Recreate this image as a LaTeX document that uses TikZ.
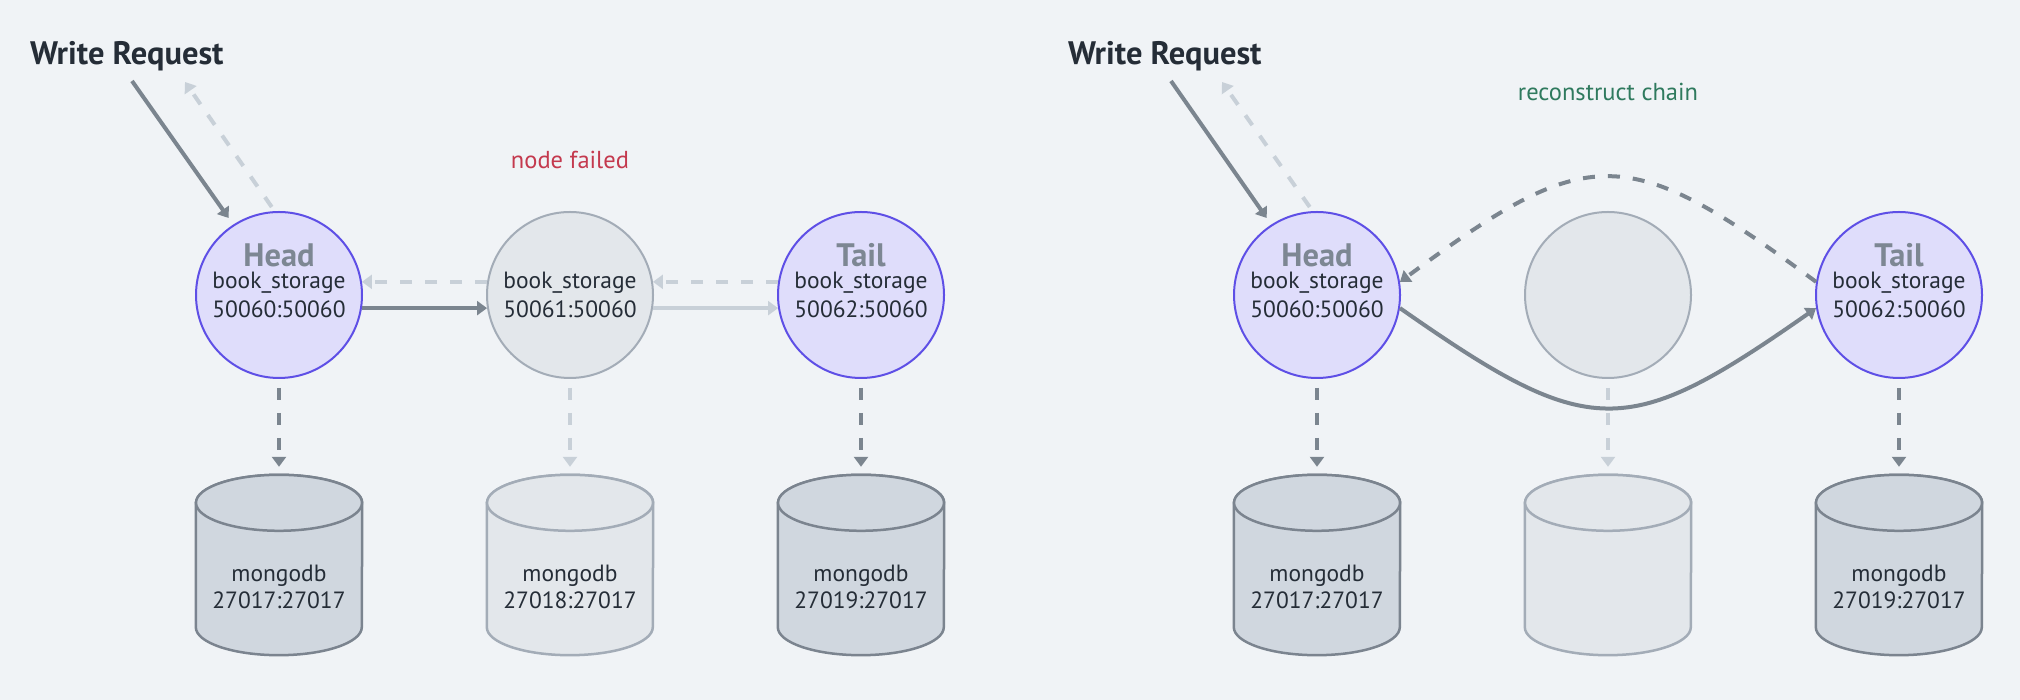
\documentclass[tikz,border=0pt]{standalone}
\usepackage{fontspec}
\setmainfont{PT Sans}
\usetikzlibrary{shapes.geometric, arrows.meta, positioning, calc}
\definecolor{bgcol}{HTML}{F0F3F6}
\definecolor{livefill}{HTML}{DFDDFB}
\definecolor{liveline}{HTML}{5E4FE6}
\definecolor{deadfill}{HTML}{E3E7EB}
\definecolor{deadline}{HTML}{A3ACB7}
\definecolor{dbfill}{HTML}{D0D7DF}
\definecolor{dbline}{HTML}{7B848F}
\definecolor{arrdark}{HTML}{7B858F}
\definecolor{arrlight}{HTML}{C8D0D8}
\definecolor{textdark}{HTML}{252D37}
\definecolor{rolegrey}{HTML}{7D8793}
\definecolor{failred}{HTML}{C4394E}
\definecolor{fixgreen}{HTML}{2F7A5E}

\tikzset{
    chainnode/.style={circle, draw=liveline, line width=2pt, fill=livefill, minimum size=166pt, inner sep=0pt, align=center, text=textdark, font=\fontsize{23.5}{29}\selectfont},
    deadnode/.style={chainnode, draw=deadline, fill=deadfill},
    dbnode/.style={rectangle, minimum width=166pt, minimum height=180pt, inner sep=0pt},
    dbbody/.style={draw=dbline, line width=2.5pt, fill=dbfill},
    deadbody/.style={dbbody, draw=deadline, fill=deadfill},
    dbtxt/.style={align=center, text=textdark, font=\fontsize{23.5}{27}\selectfont},
    roletxt/.style={text=rolegrey, font=\bfseries\fontsize{32.5}{33}\selectfont},
    reqtxt/.style={anchor=base west, inner sep=0pt, text=textdark, font=\bfseries\fontsize{32.5}{33}\selectfont},
    note/.style={font=\fontsize{24.5}{28}\selectfont},
    flow/.style={line width=4pt, draw=arrdark, -{Triangle[length=10pt,width=14pt]}},
    ack/.style={flow, dash pattern=on 12pt off 13pt},
    store/.style={ack, line width=4.5pt, shorten <=9pt, shorten >=8pt}
}

% cylinder drawn round a named db node: #1 node, #2 body style
\newcommand{\dbcan}[2]{%
    \path[#2] ($(#1.north west)+(0,-28)$) -- ($(#1.south west)+(0,28)$)
        arc[start angle=180, end angle=360, x radius=83, y radius=28]
        -- ($(#1.north east)+(0,-28)$)
        arc[start angle=0, end angle=180, x radius=83, y radius=28] -- cycle;
    \path[#2] ($(#1.north)+(0,-28)$) ellipse[x radius=83, y radius=28];
}

\begin{document}
\begin{tikzpicture}[x=1pt, y=1pt]
    \path[use as bounding box, fill=bgcol] (0,0) rectangle (2020,700);

    % before: middle node failed
    \node[reqtxt] (reqL) at (30,635) {Write Request};
    \coordinate (reqinL) at (132,619);
    \coordinate (reqoutL) at (185,618);

    \node[chainnode] (headL) at (279,405) {book\_storage\\50060:50060};
    \node[deadnode] (failL) at (570,405) {book\_storage\\50061:50060};
    \node[chainnode] (tailL) at (861,405) {book\_storage\\50062:50060};
    \node[roletxt] at ([yshift=40pt]headL.center) {Head};
    \node[roletxt] at ([yshift=40pt]tailL.center) {Tail};
    \node[note, text=failred] (failnote) at (570,540) {node failed};

    \node[dbnode] (dbheadL) at (279,135) {};
    \node[dbnode] (dbfailL) at (570,135) {};
    \node[dbnode] (dbtailL) at (861,135) {};
    \dbcan{dbheadL}{dbbody}
    \dbcan{dbfailL}{deadbody}
    \dbcan{dbtailL}{dbbody}
    \node[dbtxt] at ([yshift=-22pt]dbheadL.center) {mongodb\\27017:27017};
    \node[dbtxt] at ([yshift=-22pt]dbfailL.center) {mongodb\\27018:27017};
    \node[dbtxt] at ([yshift=-22pt]dbtailL.center) {mongodb\\27019:27017};

    \draw[flow, shorten >=8pt] (reqinL) -- (headL.123);
    \draw[ack, draw=arrlight, shorten <=5pt] (headL.93) -- (reqoutL);
    \draw[flow] (headL.-9) -- (failL.189);
    \draw[ack, draw=arrlight] (failL.171) -- (headL.9);
    \draw[flow, draw=arrlight] (failL.-9) -- (tailL.189);
    \draw[ack, draw=arrlight] (tailL.171) -- (failL.9);
    \draw[store] (headL.south) -- (dbheadL.north);
    \draw[store, draw=arrlight] (failL.south) -- (dbfailL.north);
    \draw[store] (tailL.south) -- (dbtailL.north);

    % after: chain rebuilt around it
    \node[reqtxt] (reqR) at (1068,635) {Write Request};
    \coordinate (reqinR) at (1171,619);
    \coordinate (reqoutR) at (1222,618);

    \node[chainnode] (headR) at (1317,405) {book\_storage\\50060:50060};
    \node[deadnode] (failR) at (1608,405) {};
    \node[chainnode] (tailR) at (1899,405) {book\_storage\\50062:50060};
    \node[roletxt] at ([yshift=40pt]headR.center) {Head};
    \node[roletxt] at ([yshift=40pt]tailR.center) {Tail};
    \node[note, text=fixgreen] (fixnote) at (1608,608) {reconstruct chain};

    \node[dbnode] (dbheadR) at (1317,135) {};
    \node[dbnode] (dbfailR) at (1608,135) {};
    \node[dbnode] (dbtailR) at (1899,135) {};
    \dbcan{dbheadR}{dbbody}
    \dbcan{dbfailR}{deadbody}
    \dbcan{dbtailR}{dbbody}
    \node[dbtxt] at ([yshift=-22pt]dbheadR.center) {mongodb\\27017:27017};
    \node[dbtxt] at ([yshift=-22pt]dbtailR.center) {mongodb\\27019:27017};

    \draw[flow, shorten >=8pt] (reqinR) -- (headR.123);
    \draw[ack, draw=arrlight, shorten <=5pt] (headR.93) -- (reqoutR);
    \draw[flow] (headR.-9) .. controls +(190,-133) and +(-190,-133) .. (tailR.189);
    \draw[ack] (tailR.171) .. controls +(-190,140) and +(190,140) .. (headR.9);
    \draw[store] (headR.south) -- (dbheadR.north);
    \draw[store, draw=arrlight] (failR.south) -- (dbfailR.north);
    \draw[store] (tailR.south) -- (dbtailR.north);
\end{tikzpicture}
\end{document}
